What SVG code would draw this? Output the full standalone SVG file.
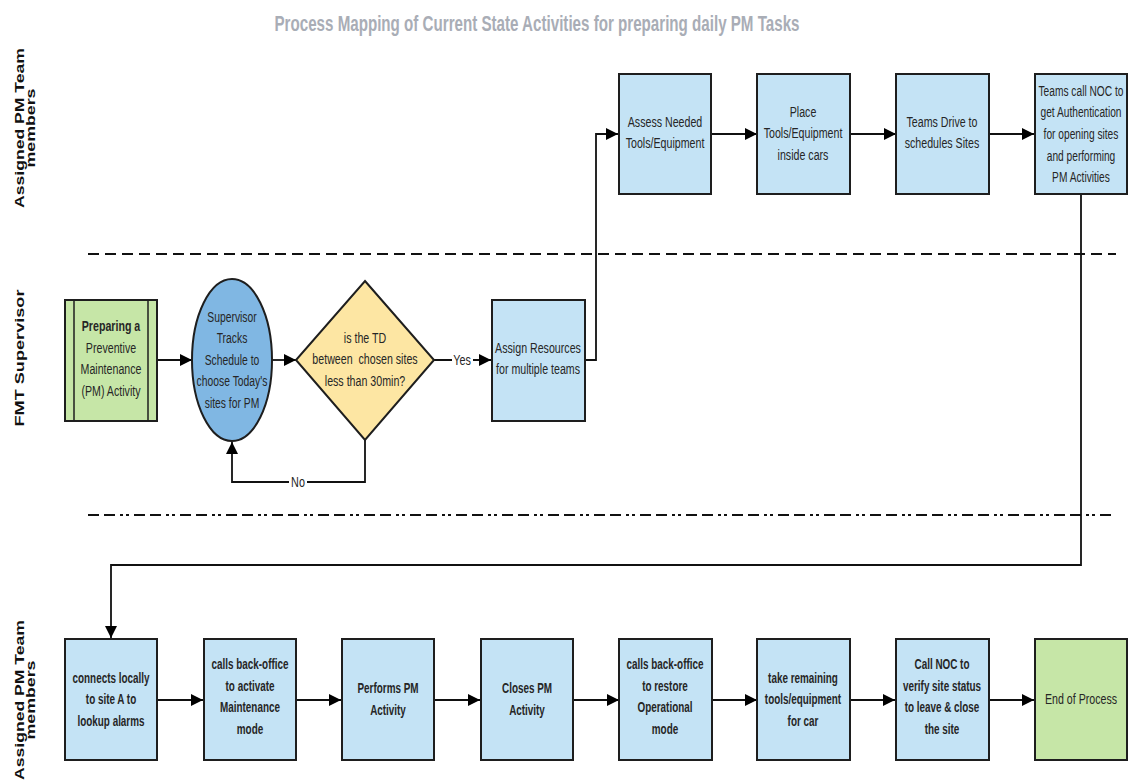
<svg xmlns="http://www.w3.org/2000/svg" width="1129" height="780" viewBox="0 0 1129 780">
  <style>
    .box { fill: #c4e3f5; stroke: #1e1e1e; stroke-width: 2; }
    .green { fill: #c6e6a7; stroke: #1e1e1e; stroke-width: 2; }
    .oval { fill: #80b7e3; stroke: #1e1e1e; stroke-width: 2; }
    .dia { fill: #fde6a3; stroke: #1e1e1e; stroke-width: 2; }
    .t { font-family: "Liberation Sans", Arial, sans-serif; font-size: 15px; fill: #262626; text-anchor: middle; }
    .b { font-weight: bold; }
    .lane { font-family: "Liberation Sans", Arial, sans-serif; font-size: 13px; font-weight: bold; fill: #111; text-anchor: middle; }
    .title { font-family: "Liberation Sans", Arial, sans-serif; font-size: 22px; font-weight: bold; fill: #a9adb6; text-anchor: middle; }
    .conn { fill: none; stroke: #111; stroke-width: 1.8; }
    .sep { fill: none; stroke: #111; stroke-width: 2; }
    .lbl { font-family: "Liberation Sans", Arial, sans-serif; font-size: 15px; fill: #262626; text-anchor: middle; }
  </style>
  <defs>
    <marker id="arr" markerUnits="userSpaceOnUse" markerWidth="12" markerHeight="12" viewBox="0 0 12 12" refX="12" refY="6" orient="auto">
      <path d="M0,0 L12,6 L0,12 Z" fill="#000"/>
    </marker>
  </defs>

  <rect width="1129" height="780" fill="#fff"/>

  <!-- title -->
  <text class="title" x="537" y="31" textLength="525" lengthAdjust="spacingAndGlyphs">Process Mapping of Current State Activities for preparing daily PM Tasks</text>

  <!-- swimlane labels -->
  <g id="lane-top">
    <text class="lane" transform="translate(24,128) rotate(-90)" textLength="160" lengthAdjust="spacingAndGlyphs">Assigned PM Team</text>
    <text class="lane" transform="translate(35,128) rotate(-90)" textLength="79" lengthAdjust="spacingAndGlyphs">members</text>
  </g>
  <g id="lane-mid">
    <text class="lane" transform="translate(24,358) rotate(-90)" textLength="137" lengthAdjust="spacingAndGlyphs">FMT Supervisor</text>
  </g>
  <g id="lane-bottom">
    <text class="lane" transform="translate(24,700) rotate(-90)" textLength="160" lengthAdjust="spacingAndGlyphs">Assigned PM Team</text>
    <text class="lane" transform="translate(35,700) rotate(-90)" textLength="79" lengthAdjust="spacingAndGlyphs">members</text>
  </g>

  <!-- lane separators -->
  <line class="sep" x1="88" y1="254" x2="1116" y2="254" stroke-dasharray="11 6"/>
  <line class="sep" x1="88" y1="515" x2="1116" y2="515" stroke-dasharray="11 5 11 5 3 3 3 5"/>

  <!-- connectors -->
  <g id="connectors">
    <line class="conn" x1="157" y1="360" x2="192" y2="360" marker-end="url(#arr)"/>
    <line class="conn" x1="272" y1="360" x2="296" y2="360" marker-end="url(#arr)"/>
    <line class="conn" x1="434" y1="360" x2="491" y2="360" marker-end="url(#arr)"/>
    <rect x="452" y="351" width="21" height="16" fill="#fff"/>
    <text class="lbl" transform="translate(462,365) scale(0.72,1)">Yes</text>
    <path class="conn" d="M365,440 V482 H232 V442" marker-end="url(#arr)"/>
    <rect x="289" y="474" width="18" height="16" fill="#fff"/>
    <text class="lbl" transform="translate(298,487) scale(0.72,1)">No</text>
    <path class="conn" d="M585,360 H596 V134 H618" marker-end="url(#arr)"/>
    <line class="conn" x1="711" y1="134" x2="757" y2="134" marker-end="url(#arr)"/>
    <line class="conn" x1="850" y1="134" x2="896" y2="134" marker-end="url(#arr)"/>
    <line class="conn" x1="989" y1="134" x2="1034" y2="134" marker-end="url(#arr)"/>
    <path class="conn" d="M1081,194 V565 H111 V638" marker-end="url(#arr)"/>
    <line class="conn" x1="157" y1="700" x2="203" y2="700" marker-end="url(#arr)"/>
    <line class="conn" x1="296" y1="700" x2="341" y2="700" marker-end="url(#arr)"/>
    <line class="conn" x1="434" y1="700" x2="480" y2="700" marker-end="url(#arr)"/>
    <line class="conn" x1="573" y1="700" x2="619" y2="700" marker-end="url(#arr)"/>
    <line class="conn" x1="712" y1="700" x2="757" y2="700" marker-end="url(#arr)"/>
    <line class="conn" x1="851" y1="700" x2="895" y2="700" marker-end="url(#arr)"/>
    <line class="conn" x1="989" y1="700" x2="1034" y2="700" marker-end="url(#arr)"/>
  </g>

  <!-- FMT Supervisor lane -->
  <g id="start">
    <rect class="green" x="65" y="300" width="92" height="121"/>
    <line x1="74" y1="300" x2="74" y2="421" stroke="#1e1e1e" stroke-width="1.5"/>
    <line x1="148" y1="300" x2="148" y2="421" stroke="#1e1e1e" stroke-width="1.5"/>
    <g transform="translate(111,0) scale(0.71,1)">
      <text class="t b" x="0" y="331">Preparing a</text>
      <text class="t" x="0" y="353">Preventive</text>
      <text class="t" x="0" y="374">Maintenance</text>
      <text class="t" x="0" y="396">(PM) Activity</text>
    </g>
  </g>
  <g id="track">
    <ellipse class="oval" cx="232" cy="360" rx="40" ry="81"/>
    <g transform="translate(232,0) scale(0.69,1)">
      <text class="t" x="0" y="322">Supervisor</text>
      <text class="t" x="0" y="343">Tracks</text>
      <text class="t" x="0" y="365">Schedule to</text>
      <text class="t" x="0" y="386">choose Today's</text>
      <text class="t" x="0" y="408">sites for PM</text>
    </g>
  </g>
  <g id="decision">
    <polygon class="dia" points="365,281 434,360 365,440 296,360"/>
    <g transform="translate(365,0) scale(0.71,1)">
      <text class="t" x="0" y="343">is the TD</text>
      <text class="t" x="0" y="364" xml:space="preserve">between  chosen sites</text>
      <text class="t" x="0" y="386">less than 30min?</text>
    </g>
  </g>
  <g id="assign">
    <rect class="box" x="492" y="300" width="93" height="121"/>
    <g transform="translate(538,0) scale(0.71,1)">
      <text class="t" x="0" y="353">Assign Resources</text>
      <text class="t" x="0" y="374">for multiple teams</text>
    </g>
  </g>

  <!-- top team lane -->
  <g id="assess">
    <rect class="box" x="619" y="74" width="92" height="120"/>
    <g transform="translate(665,0) scale(0.71,1)">
      <text class="t" x="0" y="127">Assess Needed</text>
      <text class="t" x="0" y="148">Tools/Equipment</text>
    </g>
  </g>
  <g id="place">
    <rect class="box" x="757" y="74" width="93" height="120"/>
    <g transform="translate(803,0) scale(0.71,1)">
      <text class="t" x="0" y="117">Place</text>
      <text class="t" x="0" y="138">Tools/Equipment</text>
      <text class="t" x="0" y="160">inside cars</text>
    </g>
  </g>
  <g id="drive">
    <rect class="box" x="896" y="74" width="93" height="120"/>
    <g transform="translate(942,0) scale(0.71,1)">
      <text class="t" x="0" y="127">Teams Drive to</text>
      <text class="t" x="0" y="148">schedules Sites</text>
    </g>
  </g>
  <g id="call-noc-auth">
    <rect class="box" x="1035" y="74" width="92" height="120"/>
    <g transform="translate(1081,0) scale(0.68,1)">
      <text class="t" x="0" y="96">Teams call NOC to</text>
      <text class="t" x="0" y="117">get Authentication</text>
      <text class="t" x="0" y="139">for opening sites</text>
      <text class="t" x="0" y="161">and performing</text>
      <text class="t" x="0" y="182">PM Activities</text>
    </g>
  </g>

  <!-- bottom team lane -->
  <g id="connect-site">
    <rect class="box" x="65" y="639" width="92" height="121"/>
    <g transform="translate(111,0) scale(0.66,1)">
      <text class="t b" x="0" y="683">connects locally</text>
      <text class="t b" x="0" y="704">to site A to</text>
      <text class="t b" x="0" y="726">lookup alarms</text>
    </g>
  </g>
  <g id="activate-maint">
    <rect class="box" x="204" y="639" width="92" height="121"/>
    <g transform="translate(250,0) scale(0.66,1)">
      <text class="t b" x="0" y="669">calls back-office</text>
      <text class="t b" x="0" y="691">to activate</text>
      <text class="t b" x="0" y="712">Maintenance</text>
      <text class="t b" x="0" y="734">mode</text>
    </g>
  </g>
  <g id="perform">
    <rect class="box" x="342" y="639" width="92" height="121"/>
    <g transform="translate(388,0) scale(0.66,1)">
      <text class="t b" x="0" y="693">Performs PM</text>
      <text class="t b" x="0" y="715">Activity</text>
    </g>
  </g>
  <g id="close">
    <rect class="box" x="481" y="639" width="92" height="121"/>
    <g transform="translate(527,0) scale(0.66,1)">
      <text class="t b" x="0" y="693">Closes PM</text>
      <text class="t b" x="0" y="715">Activity</text>
    </g>
  </g>
  <g id="restore-op">
    <rect class="box" x="619" y="639" width="93" height="121"/>
    <g transform="translate(665,0) scale(0.66,1)">
      <text class="t b" x="0" y="669">calls back-office</text>
      <text class="t b" x="0" y="691">to restore</text>
      <text class="t b" x="0" y="712">Operational</text>
      <text class="t b" x="0" y="734">mode</text>
    </g>
  </g>
  <g id="take-tools">
    <rect class="box" x="757" y="639" width="93" height="121"/>
    <g transform="translate(803,0) scale(0.66,1)">
      <text class="t b" x="0" y="683">take remaining</text>
      <text class="t b" x="0" y="704">tools/equipment</text>
      <text class="t b" x="0" y="726">for car</text>
    </g>
  </g>
  <g id="verify-noc">
    <rect class="box" x="896" y="639" width="93" height="121"/>
    <g transform="translate(942,0) scale(0.66,1)">
      <text class="t b" x="0" y="669">Call NOC to</text>
      <text class="t b" x="0" y="691">verify site status</text>
      <text class="t b" x="0" y="712">to leave &amp; close</text>
      <text class="t b" x="0" y="734">the site</text>
    </g>
  </g>
  <g id="end">
    <rect class="green" x="1035" y="639" width="92" height="121"/>
    <g transform="translate(1081,0) scale(0.71,1)">
      <text class="t" x="0" y="704">End of Process</text>
    </g>
  </g>
</svg>
